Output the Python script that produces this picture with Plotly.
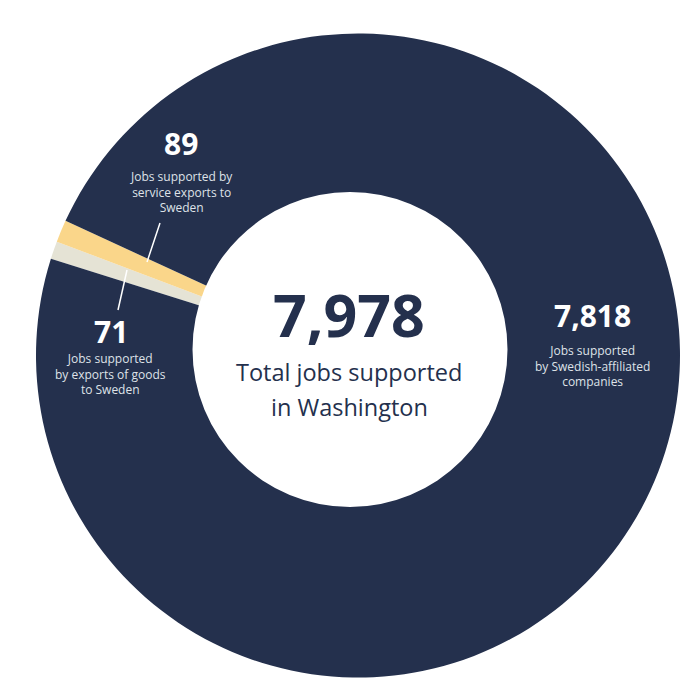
import plotly.graph_objects as go

# job categories and counts
categories = ["Exports of goods", "Service exports", "Swedish-affiliated companies"]
jobs = [71, 89, 7818]
descriptions = [
    "Jobs supported<br>by exports of goods<br>to Sweden",
    "Jobs supported by<br>service exports to<br>Sweden",
    "Jobs supported<br>by Swedish-affiliated<br>companies",
]
total_lines = ["Total jobs supported", "in Washington"]
colors = ["#e5e3d5", "#fad68a", "#24304d"]

W = H = 700
OFF = 8  # page margin the browser adds around the plot


def px(x):
    return (x - OFF) / W


def py(y):
    return 1 - (y - OFF) / H


fig = go.Figure()

fig.add_trace(go.Pie(
    labels=categories,
    values=jobs,
    sort=False,
    direction="clockwise",
    rotation=-72.5,
    textinfo="none",
    hoverinfo="label+value",
    marker=dict(colors=colors, line=dict(width=0)),
    domain=dict(x=[px(36), px(680)], y=[py(677.5), py(33.5)]),
    showlegend=False,
))

# white centre (slightly off the outer ring's centre, as in the original)
fig.add_shape(
    type="circle", xref="paper", yref="paper", layer="above",
    x0=px(350 - 157.5), x1=px(350 + 157.5),
    y0=py(349.5 + 157.5), y1=py(349.5 - 157.5),
    fillcolor="white", line=dict(width=0),
)

# leader lines for the two thin slices
line_style = dict(color="white", width=1.5)
fig.add_shape(type="line", xref="paper", yref="paper", layer="above",
              x0=px(160), y0=py(223), x1=px(147), y1=py(262), line=line_style)
fig.add_shape(type="line", xref="paper", yref="paper", layer="above",
              x0=px(127), y0=py(270), x1=px(118), y1=py(310), line=line_style)

big = dict(family="Open Sans", size=30, color="white")
small = dict(family="Open Sans", size=12, color="#dfe2e8")

label_pos = [(111, 331, 374), (181, 143, 192), (592, 316, 366)]
annotations = []
for (x, y_num, y_txt), n, desc in zip(label_pos, jobs, descriptions):
    annotations.append(dict(x=px(x), y=py(y_num), xref="paper", yref="paper",
                            text=f"<b>{n:,}</b>", showarrow=False, font=big,
                            xanchor="center", yanchor="middle"))
    annotations.append(dict(x=px(x), y=py(y_txt), xref="paper", yref="paper",
                            text=desc, showarrow=False, font=small,
                            xanchor="center", yanchor="middle"))

annotations.append(dict(x=px(349), y=py(314), xref="paper", yref="paper",
                        text=f"<b>{sum(jobs):,}</b>", showarrow=False,
                        font=dict(family="Open Sans", size=59, color="#24304d"),
                        xanchor="center", yanchor="middle"))
for line, y in zip(total_lines, [372, 407]):
    annotations.append(dict(x=px(349), y=py(y), xref="paper", yref="paper",
                            text=line, showarrow=False,
                            font=dict(family="Open Sans", size=23.5, color="#24304d"),
                            xanchor="center", yanchor="middle"))

fig.update_layout(
    width=W,
    height=H,
    margin=dict(l=0, r=0, t=0, b=0),
    paper_bgcolor="white",
    plot_bgcolor="white",
    annotations=annotations,
)

fig.write_html("out.html")
